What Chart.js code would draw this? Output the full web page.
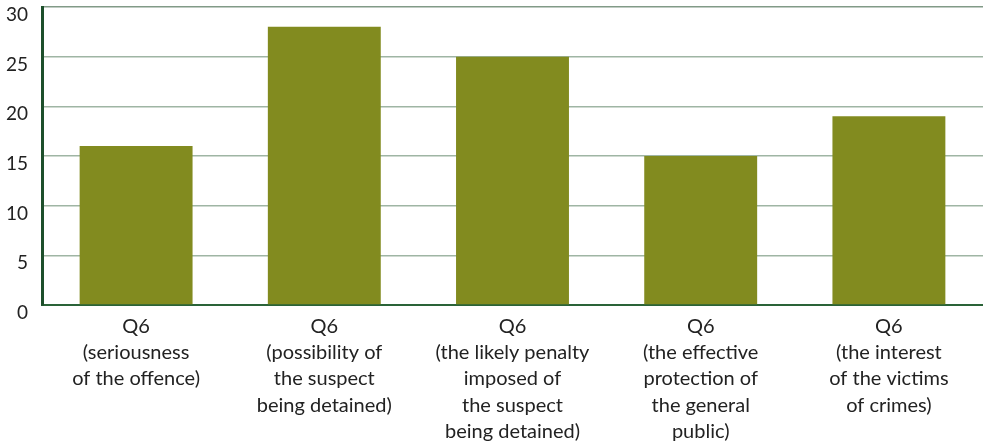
<!DOCTYPE html>
<html>
<head>
<meta charset="utf-8">
<style>
  html, body { margin: 0; padding: 0; background: #fff; }
  #wrap { width: 983px; height: 444px; position: relative; }
</style>
<script src="https://cdn.jsdelivr.net/npm/chart.js@4"></script>
</head>
<body>
<div id="wrap"><canvas id="chart"></canvas></div>
<script>
const categories = [
  ['Q6', '(seriousness', 'of the offence)'],
  ['Q6', '(possibility of', 'the suspect', 'being detained)'],
  ['Q6', '(the likely penalty', 'imposed of', 'the suspect', 'being detained)'],
  ['Q6', '(the effective', 'protection of', 'the general', 'public)'],
  ['Q6', '(the interest', 'of the victims', 'of crimes)']
];
const values = [16, 28, 25, 15, 19];
const yTicks = [0, 5, 10, 15, 20, 25, 30];

const ctx = document.getElementById('chart').getContext('2d');

new Chart(ctx, {
  type: 'bar',
  data: {
    labels: categories,
    datasets: [{
      data: values,
      backgroundColor: '#828b1f',
      borderWidth: 0,
      categoryPercentage: 1,
      barPercentage: 0.6
    }]
  },
  options: {
    responsive: true,
    maintainAspectRatio: false,
    animation: false,
    layout: { padding: { top: 7, right: 0, left: 0, bottom: 0 } },
    plugins: {
      legend: { display: false },
      tooltip: { enabled: false }
    },
    scales: {
      x: {
        grid: { display: false },
        border: { color: '#2a6338', width: 2 },
        ticks: {
          color: '#222',
          font: { family: 'Lato', size: 20, lineHeight: 1.32 },
          maxRotation: 0,
          autoSkip: false,
          padding: 0
        },
        afterFit: (s) => { s.height = 139; s.paddingLeft = 0; s.paddingRight = 0; }
      },
      y: {
        min: 0,
        max: 30,
        afterBuildTicks: (axis) => { axis.ticks = yTicks.map(v => ({ value: v })); },
        grid: {
          color: (c) => c.tick && c.tick.value === 30 ? '#819a87' : '#9fb5a4',
          lineWidth: 1.5,
          drawTicks: false
        },
        border: { color: '#1d4f2b', width: 3 },
        ticks: {
          color: '#222',
          font: { family: 'Lato', size: 19 },
          padding: 14,
          labelOffset: 8
        },
        afterFit: (s) => { s.width = 42; s.paddingTop = 0; s.paddingBottom = 0; }
      }
    }
  }
});
</script>
</body>
</html>
